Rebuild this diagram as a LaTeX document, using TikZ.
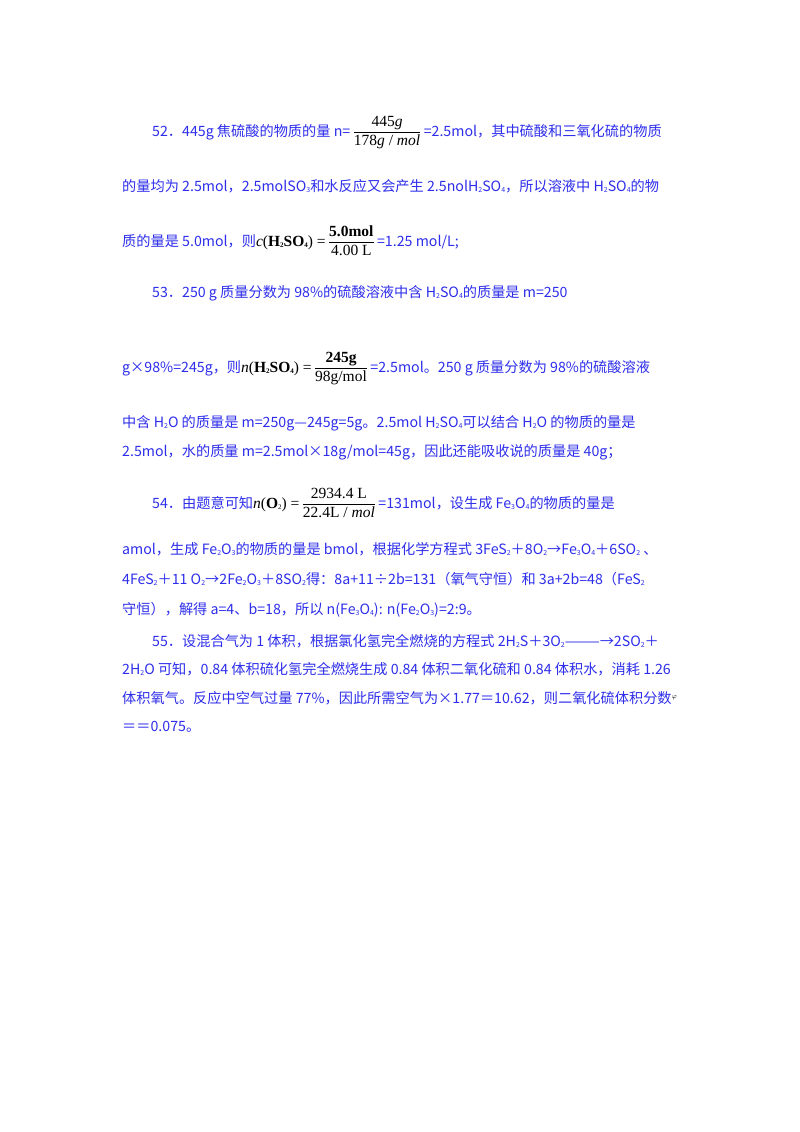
\documentclass[tikz,border=0pt]{standalone}
\usepackage{amsmath}
\usepackage{fontspec}
\setmainfont{Noto Sans CJK SC}
\newfontfamily\tmr{Liberation Serif}
\definecolor{tb}{RGB}{45,45,235}
\newcommand\lsub[1]{\raisebox{-0.25ex}{\scriptsize #1}}
\newcommand\fr[2]{\,{\color{black}$\dfrac{\text{\fontsize{15.5}{17}\tmr #1}}{\text{\fontsize{15.5}{17}\tmr #2}}$}\,}
\newcommand\tm[1]{{\color{black}\fontsize{15.5}{17}\tmr #1}}
\tikzset{ln/.style={anchor=base west,inner sep=0pt,text=tb,font=\fontsize{14.2}{16}\selectfont}}
\begin{document}
\begin{tikzpicture}[x=1pt,y=-1pt]
\useasboundingbox (0,0) rectangle (800,1132);
\node[ln] (l1) at (152,136) {52．445g 焦硫酸的物质的量 n=\fr{445\textit{g}}{178\textit{g} / \textit{mol}}=2.5mol，其中硫酸和三氧化硫的物质};
\node[ln] (l2) at (122,191) {的量均为 2.5mol，2.5molSO\lsub{3}和水反应又会产生 2.5nolH\lsub{2}SO\lsub{4}，所以溶液中 H\lsub{2}SO\lsub{4}的物};
\node[ln] (l3) at (122,246) {质的量是 5.0mol，则\tm{\textit{c}(\textbf{H\lsub{2}SO\lsub{4}}) =}\fr{\textbf{5.0mol}}{4.00 L}=1.25 mol/L;};
\node[ln] (l4) at (152,297) {53．250 g 质量分数为 98\%的硫酸溶液中含 H\lsub{2}SO\lsub{4}的质量是 m=250};
\node[ln] (l5) at (122,372) {g×98\%=245g，则\tm{\textit{n}(\textbf{H\lsub{2}SO\lsub{4}}) =}\fr{\textbf{245g}}{98g/mol}=2.5mol。250 g 质量分数为 98\%的硫酸溶液};
\node[ln] (l6) at (122,427) {中含 H\lsub{2}O 的质量是 m=250g—245g=5g。2.5mol H\lsub{2}SO\lsub{4}可以结合 H\lsub{2}O 的物质的量是};
\node[ln] (l7) at (122,456) {2.5mol，水的质量 m=2.5mol×18g/mol=45g，因此还能吸收说的质量是 40g；};
\node[ln] (l8) at (152,508) {54．由题意可知\tm{\textit{n}(\textbf{O}\lsub{2}) =}\fr{2934.4 L}{22.4L / \textit{mol}}=131mol，设生成 Fe\lsub{3}O\lsub{4}的物质的量是};
\node[ln] (l9) at (122,554) {amol，生成 Fe\lsub{2}O\lsub{3}的物质的量是 bmol，根据化学方程式 3FeS\lsub{2}＋8O\lsub{2}→Fe\lsub{3}O\lsub{4}＋6SO\lsub{2} 、};
\node[ln] (l10) at (122,584) {4FeS\lsub{2}＋11 O\lsub{2}→2Fe\lsub{2}O\lsub{3}＋8SO\lsub{2}得：8a+11÷2b=131（氧气守恒）和 3a+2b=48（FeS\lsub{2}};
\node[ln] (l11) at (122,614) {守恒），解得 a=4、b=18，所以 n(Fe\lsub{3}O\lsub{4}): n(Fe\lsub{2}O\lsub{3})=2:9。};
\node[ln] (l12) at (152,646) {55．设混合气为 1 体积，根据氯化氢完全燃烧的方程式 2H\lsub{2}S＋3O\lsub{2}———→2SO\lsub{2}＋};
\node[ln] (l13) at (122,674) {2H\lsub{2}O 可知，0.84 体积硫化氢完全燃烧生成 0.84 体积二氧化硫和 0.84 体积水，消耗 1.26};
\node[ln] (l14) at (122,703) {体积氧气。反应中空气过量 77\%，因此所需空气为×1.77＝10.62，则二氧化硫体积分数\raisebox{0.6ex}{\color{black}\scriptsize$\varphi$}};
\node[ln] (l15) at (122,731) {＝＝0.075。};
\end{tikzpicture}
\end{document}
